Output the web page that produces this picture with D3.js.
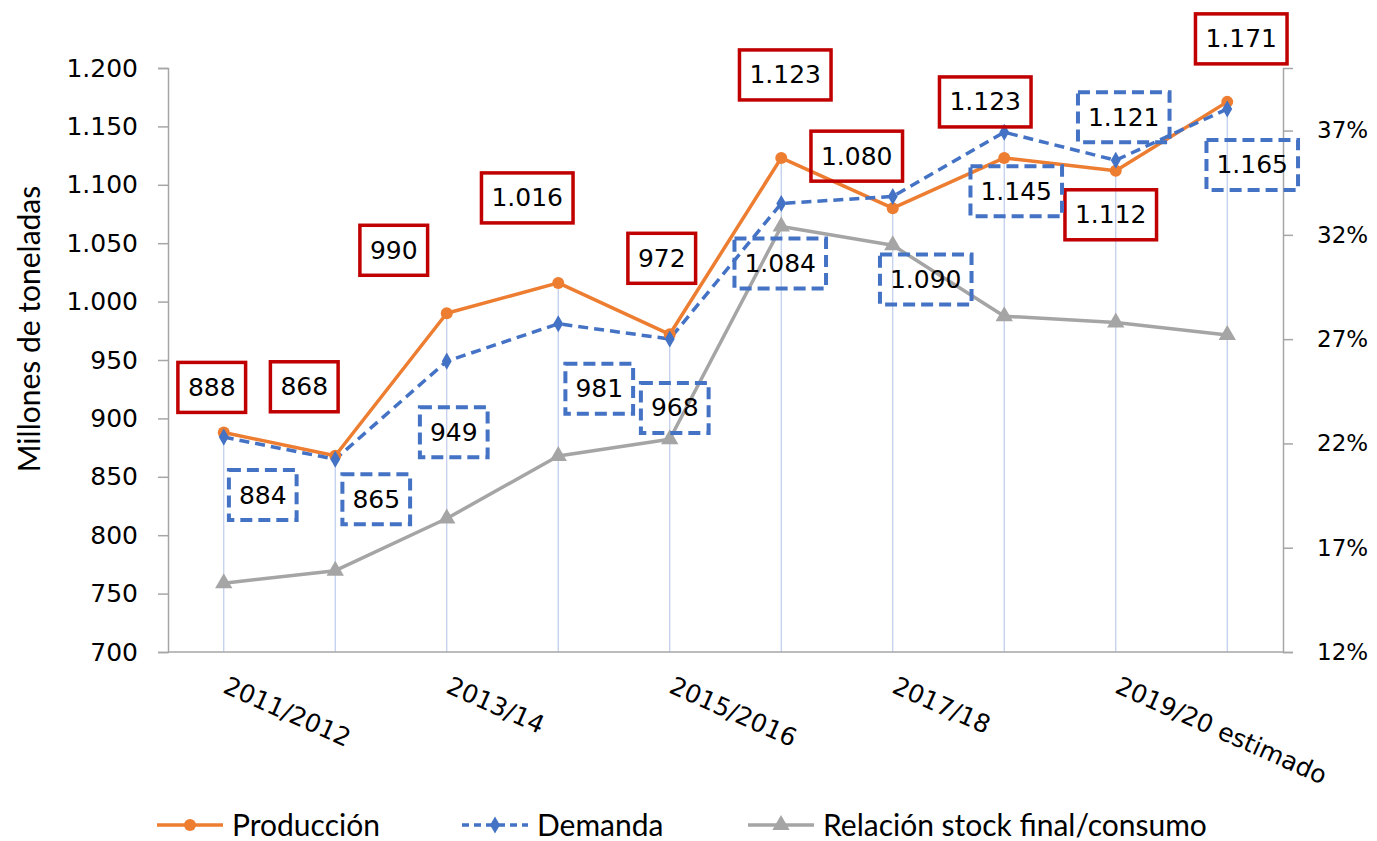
<!DOCTYPE html>
<html>
<head>
<meta charset="utf-8">
<script src="https://cdnjs.cloudflare.com/ajax/libs/d3/7.8.5/d3.min.js"></script>
<style>
  body { margin: 0; background: #fff; }
  svg { display: block; }
</style>
</head>
<body>
<div id="chart"></div>
<script>
// ---- data ----
var campaigns = ["2011/2012", "2012/13", "2013/14", "2014/15", "2015/2016",
                 "2016/17", "2017/18", "2018/19", "2019/20 estimado", "2020/21"];
var produccion = [888, 868, 990, 1016, 972, 1123, 1080, 1123, 1112, 1171];
var demanda    = [884, 865, 949, 981, 968, 1084, 1090, 1145, 1121, 1165];
var stockRatio = [0.153, 0.159, 0.184, 0.214, 0.222, 0.324, 0.315, 0.281, 0.278, 0.272];

var leftTicks  = [700, 750, 800, 850, 900, 950, 1000, 1050, 1100, 1150, 1200];
var rightTicks = [0.12, 0.17, 0.22, 0.27, 0.32, 0.37];

// label boxes were hand placed in the original, offsets from the point (px)
var prodLabelOffset = [[-12, -45], [-31, -69], [-53, -63], [-31, -85], [-8, -76],
                       [4, -83], [-36, -52], [-19, -56], [-5, 44], [14, -63]];
var demLabelOffset  = [[39, 58], [41, 40], [7, 71], [41, 65], [5, 69],
                       [-1, 60], [33, 83], [12, 59], [8, -43], [25, 56]];

function drawChart() {
  var W = 1377, H = 841;
  var pL = 168, pR = 1283, pT = 68, pB = 652;

  var esFmt = d3.formatLocale({ decimal: ",", thousands: ".", grouping: [3], currency: ["", "€"] });
  var num = esFmt.format(",d");

  var svg = d3.select("#chart").append("svg").attr("width", W).attr("height", H);

  var x = d3.scalePoint().domain(campaigns).range([pL, pR]).padding(0.5);
  var y = d3.scaleLinear().domain([700, 1200]).range([pB, pT]);
  var y2 = d3.scaleLinear().domain([0.12, 0.40]).range([pB, pT]);

  var axisColor = "#a6a6a6";
  var tickFont = "DejaVu Sans, Verdana, sans-serif";

  // <------------- drop lines from the highest point to the category axis ------------->
  svg.append("g").selectAll("line")
    .data(campaigns)
    .enter()
    .append("line")
    .attr("x1", function(d) { return x(d); })
    .attr("x2", function(d) { return x(d); })
    .attr("y1", function(d, i) { return y(Math.max(produccion[i], demanda[i])); })
    .attr("y2", pB)
    .attr("stroke", "#bccbeb")
    .attr("stroke-width", 1.2);

  // <------------- left axis ------------->
  var gl = svg.append("g")
    .attr("transform", "translate(" + pL + ",0)")
    .call(d3.axisLeft(y).tickValues(leftTicks).tickSize(10).tickPadding(20).tickFormat(num));
  gl.select(".domain").attr("stroke", axisColor).attr("stroke-width", 1.5);
  gl.selectAll(".tick line").attr("stroke", axisColor).attr("stroke-width", 1.5);
  gl.selectAll(".tick text").attr("font-family", tickFont).attr("font-size", 25).attr("fill", "#000");

  // <------------- right axis ------------->
  var gr = svg.append("g")
    .attr("transform", "translate(" + pR + ",0)")
    .call(d3.axisRight(y2).tickValues(rightTicks).tickSize(10).tickPadding(24).tickFormat(d3.format(".0%")));
  gr.select(".domain").attr("stroke", axisColor).attr("stroke-width", 1.5);
  gr.selectAll(".tick line").attr("stroke", axisColor).attr("stroke-width", 1.5);
  gr.selectAll(".tick text").attr("font-family", tickFont).attr("font-size", 23).attr("fill", "#000");

  // <------------- bottom axis line + rotated category labels ------------->
  svg.append("line")
    .attr("x1", pL).attr("x2", pR)
    .attr("y1", pB).attr("y2", pB)
    .attr("stroke", axisColor).attr("stroke-width", 1.5);

  svg.append("g").selectAll("text")
    .data(campaigns.filter(function(d, i) { return i % 2 === 0; }))
    .enter()
    .append("text")
    .attr("transform", function(d) {
      return "translate(" + (x(d) - 2) + "," + (pB + 40) + ") rotate(24)";
    })
    .attr("font-family", tickFont)
    .attr("font-size", 25)
    .attr("fill", "#000")
    .text(function(d) { return d; });

  // <------------- y axis title ------------->
  svg.append("text")
    .attr("transform", "translate(40,329) rotate(-90)")
    .attr("text-anchor", "middle")
    .attr("font-family", "Lato, sans-serif")
    .attr("font-size", 30)
    .attr("fill", "#000")
    .text("Millones de toneladas");

  // <------------- series lines ------------->
  var lineL = d3.line()
    .x(function(d, i) { return x(campaigns[i]); })
    .y(function(d) { return y(d); });
  var lineR = d3.line()
    .x(function(d, i) { return x(campaigns[i]); })
    .y(function(d) { return y2(d); });

  var cProd = "#ed7d31", cDem = "#4472c4", cStock = "#a5a5a5";

  svg.append("path").attr("d", lineR(stockRatio))
    .attr("fill", "none").attr("stroke", cStock).attr("stroke-width", 3.5).attr("stroke-linejoin", "round");
  svg.append("path").attr("d", lineL(produccion))
    .attr("fill", "none").attr("stroke", cProd).attr("stroke-width", 3.5).attr("stroke-linejoin", "round");
  svg.append("path").attr("d", lineL(demanda))
    .attr("fill", "none").attr("stroke", cDem).attr("stroke-width", 3.5)
    .attr("stroke-dasharray", "10,6");

  // markers
  var tri = d3.symbol().type(d3.symbolTriangle).size(130);
  var dia = d3.symbol().type(d3.symbolDiamond).size(85);

  svg.append("g").selectAll("path")
    .data(stockRatio).enter().append("path")
    .attr("d", tri)
    .attr("transform", function(d, i) { return "translate(" + x(campaigns[i]) + "," + y2(d) + ")"; })
    .attr("fill", cStock);

  svg.append("g").selectAll("circle")
    .data(produccion).enter().append("circle")
    .attr("cx", function(d, i) { return x(campaigns[i]); })
    .attr("cy", function(d) { return y(d); })
    .attr("r", 6)
    .attr("fill", cProd);

  svg.append("g").selectAll("path")
    .data(demanda).enter().append("path")
    .attr("d", dia)
    .attr("transform", function(d, i) { return "translate(" + x(campaigns[i]) + "," + y(d) + ")"; })
    .attr("fill", cDem);

  // <------------- boxed data labels ------------->
  function boxedLabels(vals, offsets, stroke, dashed) {
    var g = svg.append("g");
    vals.forEach(function(v, i) {
      var cx = x(campaigns[i]) + offsets[i][0];
      var cy = y(v) + offsets[i][1];
      var t = g.append("text")
        .attr("x", cx).attr("y", cy)
        .attr("text-anchor", "middle")
        .attr("dominant-baseline", "central")
        .attr("font-family", tickFont)
        .attr("font-size", 25)
        .attr("fill", "#000")
        .text(num(v));
      var w = t.node().getComputedTextLength() + 20;
      var h = 50;
      g.insert("rect", "text")
        .attr("x", cx - w / 2).attr("y", cy - h / 2)
        .attr("width", w).attr("height", h)
        .attr("fill", "none")
        .attr("stroke", stroke)
        .attr("stroke-width", dashed ? 4 : 3.5)
        .attr("stroke-dasharray", dashed ? "12,6" : null);
    });
  }
  boxedLabels(produccion, prodLabelOffset, "#c00000", false);
  boxedLabels(demanda, demLabelOffset, cDem, true);

  // <------------- legend ------------->
  var legendItems = [
    { name: "Producción", color: cProd, x0: 157, mark: "circle", dash: null },
    { name: "Demanda", color: cDem, x0: 462, mark: "diamond", dash: "7,5" },
    { name: "Relación stock final/consumo", color: cStock, x0: 748, mark: "triangle", dash: null }
  ];
  var ly = 825;
  var lg = svg.append("g");
  legendItems.forEach(function(it) {
    lg.append("line")
      .attr("x1", it.x0).attr("x2", it.x0 + 66)
      .attr("y1", ly).attr("y2", ly)
      .attr("stroke", it.color).attr("stroke-width", 3.5)
      .attr("stroke-dasharray", it.dash);
    var mx = it.x0 + 33;
    if (it.mark === "circle") {
      lg.append("circle").attr("cx", mx).attr("cy", ly).attr("r", 6).attr("fill", it.color);
    } else {
      lg.append("path")
        .attr("d", it.mark === "diamond" ? dia : tri)
        .attr("transform", "translate(" + mx + "," + ly + ")")
        .attr("fill", it.color);
    }
    lg.append("text")
      .attr("x", it.x0 + 75).attr("y", ly + 11)
      .attr("font-family", "Lato, sans-serif")
      .attr("font-size", 30)
      .attr("fill", "#000")
      .text(it.name);
  });
}

drawChart();
</script>
</body>
</html>
